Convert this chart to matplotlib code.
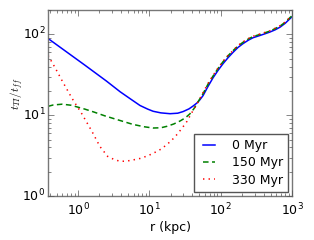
import matplotlib
matplotlib.use("Agg")
import matplotlib.pyplot as plt

plt.style.use('classic')

r_blue = [0.38, 0.6, 1.25, 2.5, 3.9, 5.5, 7.4, 9.5, 11.3, 14.5, 19.5, 25, 29.7, 36, 41, 46.6, 51, 56.6, 66, 78, 92, 108, 128, 149, 175, 206, 245, 284, 355, 420, 490, 580, 680, 800, 940, 1000]
t_blue = [89, 66.5, 41.6, 26.5, 19.5, 15.8, 13.2, 11.9, 11.2, 10.7, 10.45, 10.6, 11.1, 12.0, 13.0, 14.2, 15.5, 17.5, 22.5, 29, 36, 43.5, 52, 60, 69, 77, 85, 91, 97, 102, 107, 114, 123, 137, 157, 165]

r_green = [0.38, 0.45, 0.6, 0.8, 1.25, 1.7, 2.4, 3.9, 5.9, 8.5, 11.3, 14.5, 17.7, 22, 27, 32, 37, 42, 48, 56.6, 66, 78, 92, 108, 128, 149, 175, 206, 245, 284, 355, 420, 490, 580, 680, 800, 940, 1000]
t_green = [12.9, 13.4, 13.7, 13.3, 11.9, 10.9, 9.8, 8.6, 7.7, 7.2, 6.95, 7.0, 7.3, 7.8, 8.5, 9.3, 10.4, 12.0, 14.6, 18.5, 24, 30.5, 38, 46, 55, 63, 72, 80, 88, 94, 100, 105, 110, 118, 127, 141, 162, 170]

r_red = [0.38, 0.475, 0.6, 0.82, 1.14, 1.57, 2.03, 2.6, 3.3, 3.9, 4.56, 5.5, 7.4, 9.5, 11.3, 14.5, 17.7, 21, 24.5, 29, 33.7, 38, 43.7, 50, 56.6, 66, 78, 92, 108, 128, 149, 175, 206, 245, 284, 355, 420, 490, 580, 680, 800, 940, 1000]
t_red = [55, 39, 26.6, 16.3, 10.3, 6.3, 4.1, 3.1, 2.8, 2.7, 2.7, 2.76, 2.92, 3.15, 3.38, 3.8, 4.35, 5.0, 5.8, 7.0, 8.4, 10.2, 12.6, 15.5, 19, 24.5, 31, 38.5, 46.5, 55.5, 63, 73, 81, 89, 95, 101, 106, 111, 119, 128, 142, 163, 171]

labels = ['0 Myr', '150 Myr', '330 Myr']

fig = plt.figure(figsize=(3.14, 2.4), dpi=100, facecolor='white')
ax = fig.add_axes([0.153, 0.183, 0.777, 0.775])
ax.plot(r_blue, t_blue, color='b', ls='-', lw=1.1, label=labels[0])
ax.plot(r_green, t_green, color='g', ls='--', dashes=(4, 2.5), lw=1.1, label=labels[1])
ax.plot(r_red, t_red, color='r', ls=':', lw=1.1, label=labels[2])
ax.set_xscale('log')
ax.set_yscale('log')
ax.set_xlim(0.38, 1000)
ax.set_ylim(1, 200)
ax.set_xlabel('r (kpc)', fontsize=9, labelpad=2)
ax.set_ylabel(r'$t_{TI}/t_{ff}$', fontsize=8)
ax.yaxis.set_label_coords(-0.092, 0.55)
ax.tick_params(labelsize=9, colors='#555555', which='both')
ax.tick_params(labelcolor='black')
ax.tick_params(axis='y', pad=2)
for s in ax.spines.values():
    s.set_color('#777777')
leg = ax.legend(loc='lower right', fontsize=9, handlelength=1.6,
                labelspacing=0.35, borderaxespad=0.35, handletextpad=1.0)
leg.get_frame().set_edgecolor('#555555')
fig.savefig('out.png', dpi=100, facecolor='white')
